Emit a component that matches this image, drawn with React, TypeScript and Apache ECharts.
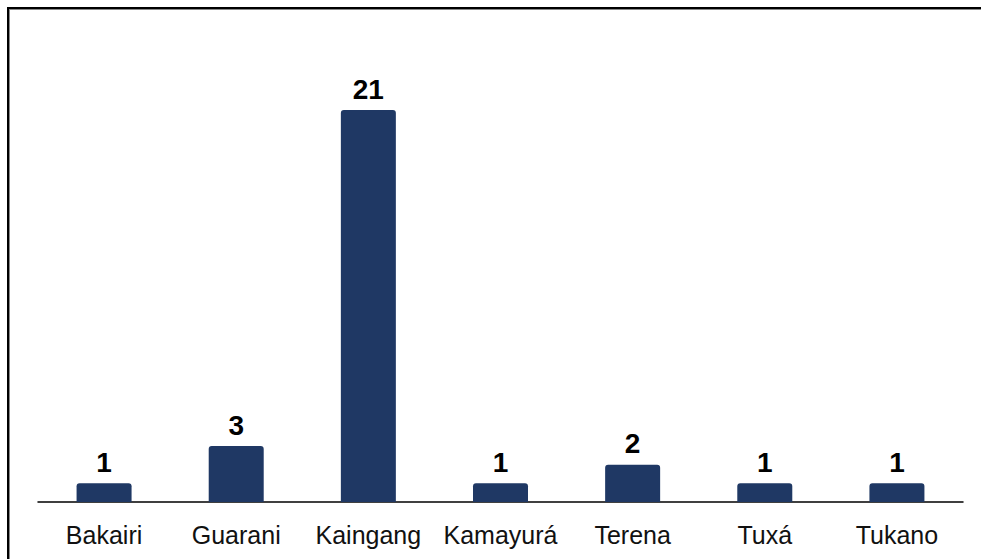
import React, { useEffect, useRef } from "react";
import * as echarts from "echarts";

const categories = ["Bakairi", "Guarani", "Kaingang", "Kamayurá", "Terena", "Tuxá", "Tukano"];
const counts = [1, 3, 21, 1, 2, 1, 1];

const FONT = "'Liberation Sans', Arial, sans-serif";

export default function App() {
  const ref = useRef<HTMLDivElement>(null);

  useEffect(() => {
    if (!ref.current) return;
    const chart = echarts.init(ref.current, undefined, { renderer: "svg" });
    chart.setOption({
      animation: false,
      grid: { left: 38, right: 18, top: 54, bottom: 57, containLabel: false },
      xAxis: {
        type: "category",
        data: categories,
        axisLine: { lineStyle: { color: "#000", width: 1.5 } },
        axisTick: { show: false },
        axisLabel: {
          color: "#111",
          fontSize: 25,
          fontFamily: FONT,
          margin: 20,
          interval: 0,
        },
      },
      yAxis: {
        type: "value",
        min: 0,
        max: 24,
        show: false,
        splitLine: { show: false },
      },
      series: [
        {
          type: "bar",
          data: counts,
          barWidth: 55,
          itemStyle: { color: "#1F3864", borderRadius: [3, 3, 0, 0] },
          label: {
            show: true,
            position: "top",
            distance: 7,
            color: "#000",
            fontSize: 28,
            fontWeight: "bold",
            fontFamily: FONT,
          },
        },
      ],
    });
    return () => chart.dispose();
  }, []);

  return (
    <div
      style={{
        position: "fixed",
        left: 0,
        top: 0,
        width: 981,
        height: 559,
        background: "#fff",
        overflow: "hidden",
      }}
    >
      <div
        style={{
          position: "absolute",
          left: 7,
          top: 7,
          width: 1100,
          height: 700,
          borderTop: "2px solid #000",
          borderLeft: "2px solid #000",
          boxShadow: "inset 1px 1px 0 #888",
        }}
      />
      <div ref={ref} style={{ position: "absolute", left: 0, top: 0, width: 981, height: 559 }} />
    </div>
  );
}
